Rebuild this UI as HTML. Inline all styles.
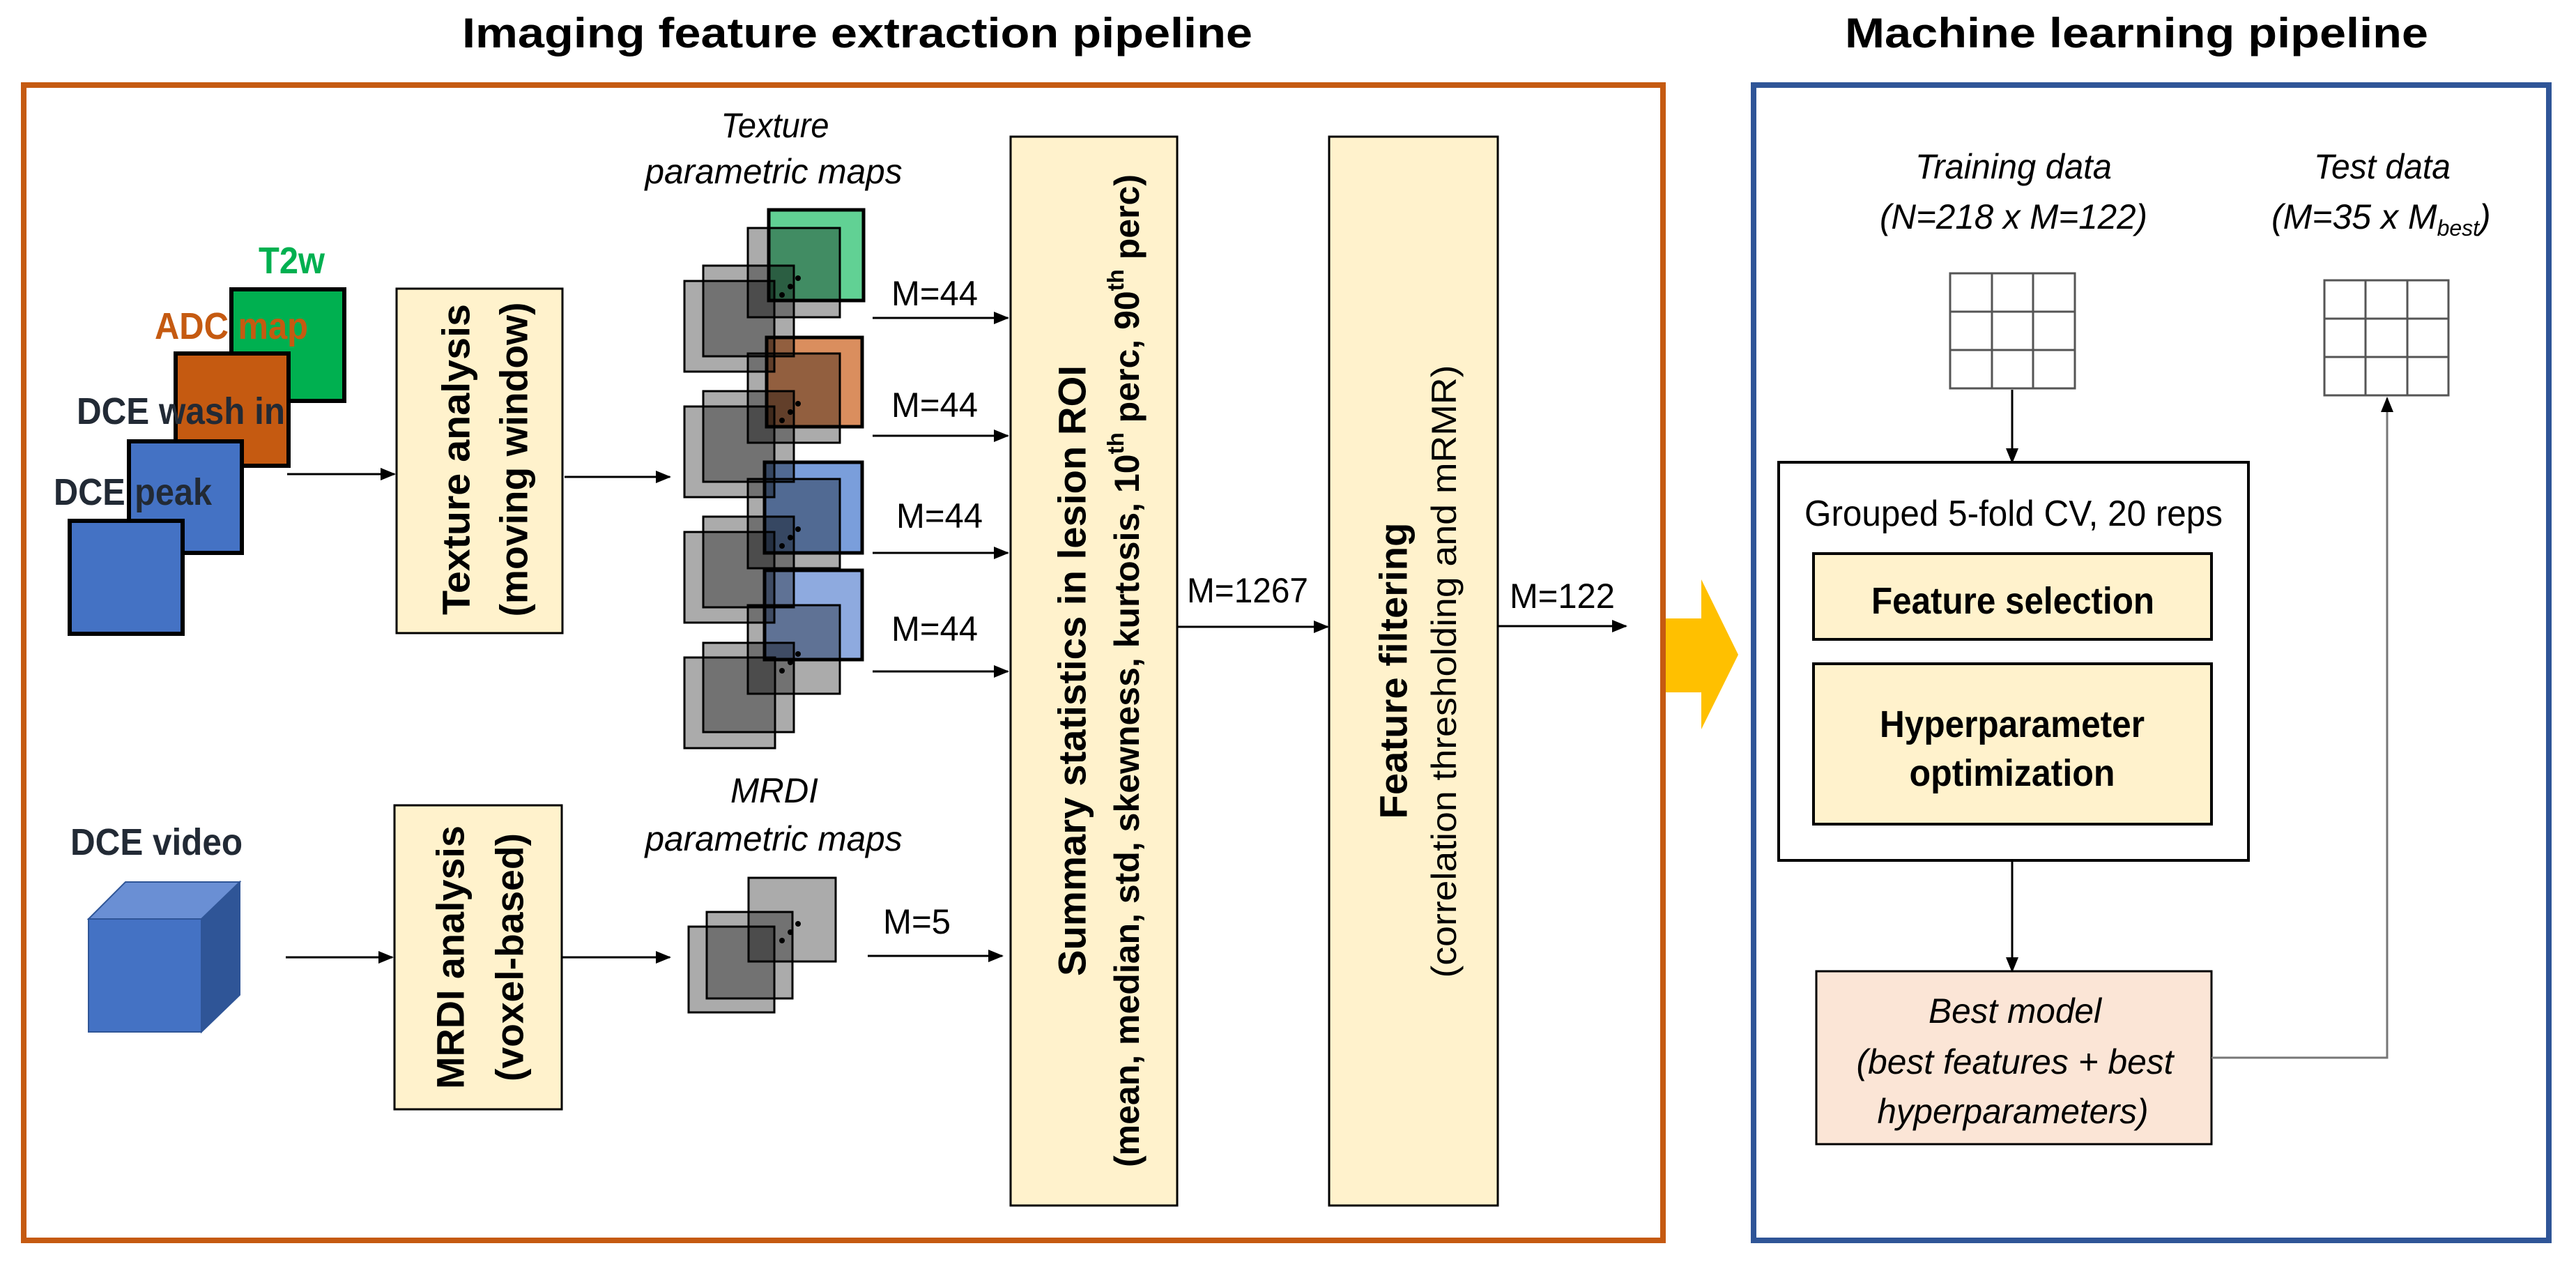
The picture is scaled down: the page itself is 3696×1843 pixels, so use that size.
<!DOCTYPE html>
<html><head><meta charset="utf-8"><style>
html,body{margin:0;padding:0;background:#fff;}
svg{display:block;}
text{font-family:"Liberation Sans",Arial,sans-serif;}
</style></head><body>
<svg width="3696" height="1843" viewBox="0 0 3696 1843" xmlns="http://www.w3.org/2000/svg">
<defs>
<marker id="ah" markerUnits="userSpaceOnUse" markerWidth="22" markerHeight="18" refX="20" refY="9" orient="auto">
<path d="M0,0 L22,9 L0,18 Z" fill="#000"/></marker>
<marker id="ahg" markerUnits="userSpaceOnUse" markerWidth="22" markerHeight="18" refX="20" refY="9" orient="auto">
<path d="M0,0 L22,9 L0,18 Z" fill="#000"/></marker>
</defs>
<rect width="3696" height="1843" fill="#fff"/>

<text x="663" y="68" font-size="60" font-weight="bold" textLength="1134" lengthAdjust="spacingAndGlyphs">Imaging feature extraction pipeline</text>
<text x="2647" y="68" font-size="60" font-weight="bold" textLength="837" lengthAdjust="spacingAndGlyphs">Machine learning pipeline</text>

<rect x="34" y="122" width="2352" height="1657" fill="none" stroke="#C55A11" stroke-width="8"/>
<rect x="2516" y="122" width="1141" height="1657" fill="none" stroke="#2F5597" stroke-width="8"/>

<rect x="332" y="415" width="162" height="160" fill="#00B050" stroke="#000" stroke-width="6"/>
<rect x="252" y="507" width="162" height="161" fill="#C55A11" stroke="#000" stroke-width="6"/>
<rect x="185" y="633" width="162" height="160" fill="#4472C4" stroke="#000" stroke-width="6"/>
<rect x="100" y="747" width="162" height="162" fill="#4472C4" stroke="#000" stroke-width="6"/>
<text x="371" y="392" font-size="54" font-weight="bold" fill="#00B050" textLength="95" lengthAdjust="spacingAndGlyphs">T2w</text>
<text x="222" y="486" font-size="54" font-weight="bold" fill="#C55A11" textLength="220" lengthAdjust="spacingAndGlyphs">ADC map</text>
<text x="110" y="608" font-size="54" font-weight="bold" fill="#222A35" textLength="299" lengthAdjust="spacingAndGlyphs">DCE wash in</text>
<text x="77" y="724" font-size="54" font-weight="bold" fill="#222A35" textLength="227" lengthAdjust="spacingAndGlyphs">DCE peak</text>

<text x="101" y="1226" font-size="54" font-weight="bold" fill="#222A35" textLength="247" lengthAdjust="spacingAndGlyphs">DCE video</text>
<polygon points="127,1318 180,1265 344,1265 291,1318" fill="#6A8FD4" stroke="#2F5597" stroke-width="2"/>
<polygon points="289,1318 344,1265 344,1427 289,1480" fill="#2F5597" stroke="#2F5597" stroke-width="2"/>
<rect x="127" y="1318" width="162" height="162" fill="#4472C4" stroke="#2F5597" stroke-width="2"/>

<line x1="412" y1="680" x2="566" y2="680" stroke="#000" stroke-width="3" marker-end="url(#ah)"/>
<line x1="810" y1="684" x2="961" y2="684" stroke="#000" stroke-width="3" marker-end="url(#ah)"/>
<line x1="410" y1="1373" x2="563" y2="1373" stroke="#000" stroke-width="3" marker-end="url(#ah)"/>
<line x1="806" y1="1373" x2="961" y2="1373" stroke="#000" stroke-width="3" marker-end="url(#ah)"/>

<rect x="569" y="414" width="238" height="494" fill="#FFF2CC" stroke="#000" stroke-width="3"/>
<text transform="translate(654,659) rotate(-90)" text-anchor="middle" dominant-baseline="central" font-size="56" font-weight="bold" textLength="446" lengthAdjust="spacingAndGlyphs">Texture analysis</text>
<text transform="translate(737,659) rotate(-90)" text-anchor="middle" dominant-baseline="central" font-size="56" font-weight="bold" textLength="451" lengthAdjust="spacingAndGlyphs">(moving window)</text>

<rect x="566" y="1155" width="240" height="436" fill="#FFF2CC" stroke="#000" stroke-width="3"/>
<text transform="translate(646,1373) rotate(-90)" text-anchor="middle" dominant-baseline="central" font-size="56" font-weight="bold" textLength="378" lengthAdjust="spacingAndGlyphs">MRDI analysis</text>
<text transform="translate(731,1373) rotate(-90)" text-anchor="middle" dominant-baseline="central" font-size="56" font-weight="bold" textLength="356" lengthAdjust="spacingAndGlyphs">(voxel-based)</text>

<text x="1112" y="197" font-size="50" font-style="italic" text-anchor="middle" textLength="155" lengthAdjust="spacingAndGlyphs">Texture</text>
<text x="1110" y="263" font-size="50" font-style="italic" text-anchor="middle" textLength="369" lengthAdjust="spacingAndGlyphs">parametric maps</text>
<text x="1111" y="1151" font-size="50" font-style="italic" text-anchor="middle" textLength="126" lengthAdjust="spacingAndGlyphs">MRDI</text>
<text x="1110" y="1220" font-size="50" font-style="italic" text-anchor="middle" textLength="369" lengthAdjust="spacingAndGlyphs">parametric maps</text>

<rect x="1103" y="301" width="136" height="130" fill="#61D194"/>
<rect x="1100" y="484" width="137" height="128" fill="#DA8E5E"/>
<rect x="1097" y="663" width="140" height="130" fill="#7A9EDB"/>
<rect x="1097" y="818" width="140" height="128" fill="#8EAADF"/>
<g fill="rgba(0,0,0,0.33)" stroke="#000" stroke-width="3">
<rect x="1073" y="327" width="132" height="128"/><rect x="1009" y="381" width="130" height="130"/><rect x="982" y="403" width="129" height="130"/>
<rect x="1073" y="507" width="132" height="128"/><rect x="1009" y="561" width="130" height="130"/><rect x="982" y="583" width="129" height="130"/>
<rect x="1073" y="687" width="132" height="128"/><rect x="1009" y="741" width="130" height="130"/><rect x="982" y="763" width="129" height="130"/>
<rect x="1073" y="868" width="132" height="127"/><rect x="1009" y="922" width="130" height="128"/><rect x="982" y="943" width="130" height="130"/>
</g>
<g fill="none" stroke="#000" stroke-width="5">
<rect x="1103" y="301" width="136" height="130"/>
<rect x="1100" y="484" width="137" height="128"/>
<rect x="1097" y="663" width="140" height="130"/>
<rect x="1097" y="818" width="140" height="128"/>
</g>
<g fill="#000">
<circle cx="1145" cy="399" r="4"/><circle cx="1134" cy="411" r="4"/><circle cx="1122" cy="423" r="4"/>
<circle cx="1145" cy="579" r="4"/><circle cx="1134" cy="591" r="4"/><circle cx="1122" cy="603" r="4"/>
<circle cx="1145" cy="759" r="4"/><circle cx="1134" cy="771" r="4"/><circle cx="1122" cy="783" r="4"/>
<circle cx="1145" cy="938" r="4"/><circle cx="1134" cy="950" r="4"/><circle cx="1122" cy="962" r="4"/>
<circle cx="1145" cy="1325" r="4"/><circle cx="1134" cy="1337" r="4"/><circle cx="1122" cy="1349" r="4"/>
</g>
<g fill="rgba(0,0,0,0.33)" stroke="#000" stroke-width="3">
<rect x="1074" y="1259" width="125" height="120"/>
<rect x="1014" y="1308" width="123" height="124"/>
<rect x="988" y="1329" width="123" height="123"/>
</g>

<g stroke="#000" stroke-width="3">
<line x1="1252" y1="456" x2="1446" y2="456" marker-end="url(#ah)"/>
<line x1="1252" y1="625" x2="1446" y2="625" marker-end="url(#ah)"/>
<line x1="1252" y1="793" x2="1446" y2="793" marker-end="url(#ah)"/>
<line x1="1252" y1="963" x2="1446" y2="963" marker-end="url(#ah)"/>
<line x1="1245" y1="1371" x2="1438" y2="1371" marker-end="url(#ah)"/>
<line x1="1689" y1="899" x2="1905" y2="899" marker-end="url(#ah)"/>
<line x1="2149" y1="898" x2="2333" y2="898" marker-end="url(#ah)"/>
</g>
<g font-size="50">
<text x="1279" y="438" textLength="124" lengthAdjust="spacingAndGlyphs">M=44</text>
<text x="1279" y="598" textLength="124" lengthAdjust="spacingAndGlyphs">M=44</text>
<text x="1286" y="757" textLength="124" lengthAdjust="spacingAndGlyphs">M=44</text>
<text x="1279" y="919" textLength="124" lengthAdjust="spacingAndGlyphs">M=44</text>
<text x="1267" y="1339" textLength="97" lengthAdjust="spacingAndGlyphs">M=5</text>
<text x="1703" y="864" textLength="174" lengthAdjust="spacingAndGlyphs">M=1267</text>
<text x="2166" y="872" textLength="151" lengthAdjust="spacingAndGlyphs">M=122</text>
</g>

<rect x="1450" y="196" width="239" height="1533" fill="#FFF2CC" stroke="#000" stroke-width="3"/>
<text transform="translate(1538,962) rotate(-90)" text-anchor="middle" dominant-baseline="central" font-size="56" font-weight="bold" textLength="876" lengthAdjust="spacingAndGlyphs">Summary statistics in lesion ROI</text>
<text transform="translate(1617,962) rotate(-90)" text-anchor="middle" dominant-baseline="central" font-size="50" font-weight="bold">(mean, median, std, skewness, kurtosis, 10<tspan font-size="33" dy="-17">th</tspan><tspan dy="17"> perc, 90</tspan><tspan font-size="33" dy="-17">th</tspan><tspan dy="17"> perc)</tspan></text>

<rect x="1907" y="196" width="242" height="1533" fill="#FFF2CC" stroke="#000" stroke-width="3"/>
<text transform="translate(1999,962) rotate(-90)" text-anchor="middle" dominant-baseline="central" font-size="56" font-weight="bold" textLength="425" lengthAdjust="spacingAndGlyphs">Feature filtering</text>
<text transform="translate(2072,963) rotate(-90)" text-anchor="middle" dominant-baseline="central" font-size="50" textLength="879" lengthAdjust="spacingAndGlyphs">(correlation thresholding and mRMR)</text>

<polygon points="2390,887 2441,887 2441,831 2494,939 2441,1046 2441,993 2390,993" fill="#FFC000"/>

<text x="2889" y="256" font-size="50" font-style="italic" text-anchor="middle" textLength="282" lengthAdjust="spacingAndGlyphs">Training data</text>
<text x="2889" y="328" font-size="50" font-style="italic" text-anchor="middle" textLength="384" lengthAdjust="spacingAndGlyphs">(N=218 x M=122)</text>
<text x="3418" y="256" font-size="50" font-style="italic" text-anchor="middle" textLength="196" lengthAdjust="spacingAndGlyphs">Test data</text>
<text x="3259" y="328" font-size="50" font-style="italic">(M=35 x M<tspan font-size="32" dy="10">best</tspan><tspan dy="-10">)</tspan></text>

<g stroke="#555" stroke-width="3" fill="#fff">
<rect x="2798" y="392" width="179" height="165"/>
<line x1="2858" y1="392" x2="2858" y2="557"/><line x1="2917" y1="392" x2="2917" y2="557"/>
<line x1="2798" y1="447" x2="2977" y2="447"/><line x1="2798" y1="502" x2="2977" y2="502"/>
<rect x="3335" y="402" width="178" height="165"/>
<line x1="3394" y1="402" x2="3394" y2="567"/><line x1="3454" y1="402" x2="3454" y2="567"/>
<line x1="3335" y1="457" x2="3513" y2="457"/><line x1="3335" y1="512" x2="3513" y2="512"/>
</g>

<line x1="2887" y1="559" x2="2887" y2="663" stroke="#000" stroke-width="3" marker-end="url(#ah)"/>
<rect x="2552" y="663" width="674" height="571" fill="#fff" stroke="#000" stroke-width="4"/>
<text x="2889" y="754" font-size="52" text-anchor="middle" textLength="600" lengthAdjust="spacingAndGlyphs">Grouped 5-fold CV, 20 reps</text>
<rect x="2602" y="794" width="571" height="123" fill="#FFF2CC" stroke="#000" stroke-width="4"/>
<text x="2888" y="880" font-size="54" font-weight="bold" text-anchor="middle" textLength="406" lengthAdjust="spacingAndGlyphs">Feature selection</text>
<rect x="2602" y="952" width="571" height="230" fill="#FFF2CC" stroke="#000" stroke-width="4"/>
<text x="2887" y="1057" font-size="54" font-weight="bold" text-anchor="middle" textLength="380" lengthAdjust="spacingAndGlyphs">Hyperparameter</text>
<text x="2887" y="1127" font-size="54" font-weight="bold" text-anchor="middle" textLength="295" lengthAdjust="spacingAndGlyphs">optimization</text>
<line x1="2887" y1="1234" x2="2887" y2="1393" stroke="#000" stroke-width="3" marker-end="url(#ah)"/>
<rect x="2606" y="1393" width="567" height="248" fill="#FBE5D6" stroke="#000" stroke-width="3"/>
<text x="2891" y="1467" font-size="50" font-style="italic" text-anchor="middle" textLength="248" lengthAdjust="spacingAndGlyphs">Best model</text>
<text x="2891" y="1540" font-size="50" font-style="italic" text-anchor="middle" textLength="455" lengthAdjust="spacingAndGlyphs">(best features + best</text>
<text x="2888" y="1611" font-size="50" font-style="italic" text-anchor="middle" textLength="389" lengthAdjust="spacingAndGlyphs">hyperparameters)</text>
<polyline points="3173,1517 3425,1517 3425,571" fill="none" stroke="#777" stroke-width="3" marker-end="url(#ahg)"/>
</svg>
</body></html>
